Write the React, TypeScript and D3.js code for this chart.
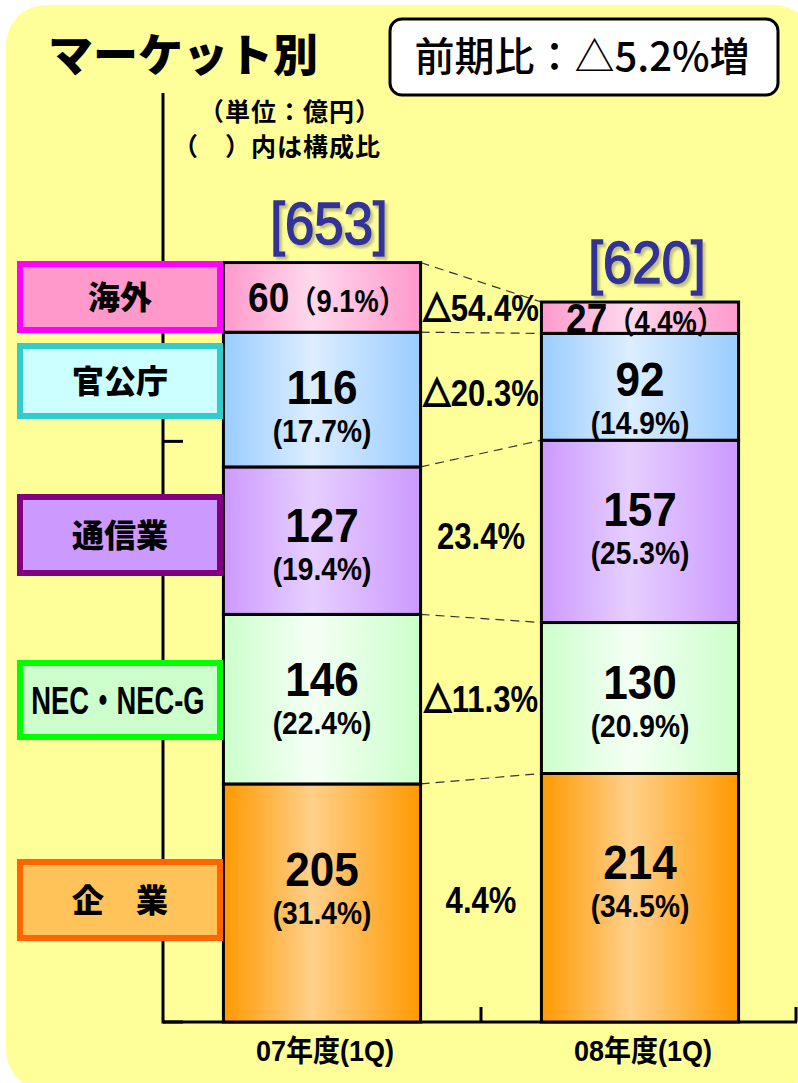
import React from "react";
import * as d3 from "d3";

// ---------- data ----------
const categories = ["07年度(1Q)", "08年度(1Q)"];
const segmentNames = ["企　業", "NEC・NEC-G", "通信業", "官公庁", "海外"];
const values07 = [205, 146, 127, 116, 60];
const values08 = [214, 130, 157, 92, 27];
const shares07 = [31.4, 22.4, 19.4, 17.7, 9.1];
const shares08 = [34.5, 20.9, 25.3, 14.9, 4.4];
const changeLabels = ["4.4%", "△11.3%", "23.4%", "△20.3%", "△54.4%"];
const totals = [653, 620];
const yTicks = [0, 500];
const yMax = 800;

const title = "マーケット別";
const headline = "前期比：△5.2%増";
const unitNote = "（単位：億円）";
const shareNote = "（　）内は構成比";

// ---------- styles / layout ----------
const edgeColors = ["#FF9900", "#CCFFCC", "#CC99FF", "#99CCFF", "#FF99CC"];
const centerColors = ["#FFD08A", "#F5FFF5", "#E6CFFF", "#DDEEFF", "#FFD9EC"];
const legendStroke = ["#FF6600", "#00FF00", "#800080", "#33CCCC", "#FF00FF"];
const legendFill = ["#FFC35A", "#CCFFCC", "#CC99FF", "#CCFFFF", "#FF99CC"];
const legendCY = [900, 700, 535, 381, 297];
const legendH = [76, 74, 76, 70, 66];

const W = 798;
const H = 1083;
const NUM_FONT = "'Liberation Sans', Arial, 'Noto Sans CJK JP', sans-serif";
const JP_FONT = "'Noto Sans CJK JP', 'Noto Sans', sans-serif";

const x = d3.scaleBand<string>().domain(categories).range([163, 799]).paddingInner(0).paddingOuter(0);
const y = d3.scaleLinear().domain([0, yMax]).range([1022, 93]);
const barW = x.bandwidth() * 0.62;

const valuesByCat = [values07, values08];
const sharesByCat = [shares07, shares08];
const rows = categories.map((c, i) => {
  const r: any = { cat: c };
  segmentNames.forEach((s, j) => (r[s] = valuesByCat[i][j]));
  return r;
});
const stacked = d3.stack<any>().keys(segmentNames)(rows);

function SText(props: any) {
  const { x, y, sx = 1, size, weight = "bold", fill = "#000", family = NUM_FONT, anchor = "middle", children, filter, stroke, strokeWidth, letterSpacing } = props;
  return (
    <text
      transform={`translate(${x},${y}) scale(${sx},1)`}
      fontSize={size}
      fontWeight={weight}
      fill={fill}
      fontFamily={family}
      textAnchor={anchor}
      filter={filter}
      stroke={stroke}
      strokeWidth={strokeWidth}
      letterSpacing={letterSpacing}
    >
      {children}
    </text>
  );
}

function withTriangle(label: string) {
  if (!label.startsWith("△")) return label;
  return [
    <tspan key="t" fontFamily={JP_FONT} fontWeight="900" fontSize={33} stroke="#000" strokeWidth={2.2}>
      △
    </tspan>,
    <tspan key="r">{label.slice(1)}</tspan>,
  ];
}

export default function App() {
  const barLeft = (ci: number) => (x(categories[ci]) as number) + (x.bandwidth() - barW) / 2;
  const barCenter = (ci: number) => (x(categories[ci]) as number) + x.bandwidth() / 2;

  return (
    <svg width={W} height={H} style={{ position: "absolute", left: 0, top: 0, display: "block" }}>
      <defs>
        {segmentNames.map((s, j) => (
          <linearGradient key={j} id={`g${j}`} x1="0" y1="0" x2="1" y2="0">
            <stop offset="0" stopColor={edgeColors[j]} />
            <stop offset="0.45" stopColor={centerColors[j]} />
            <stop offset="1" stopColor={edgeColors[j]} />
          </linearGradient>
        ))}
        <filter id="shadow" x="-10%" y="-10%" width="130%" height="140%">
          <feDropShadow dx={3} dy={3} stdDeviation={1.2} floodColor="#8C8C70" floodOpacity={0.55} />
        </filter>
      </defs>
      <rect x={0} y={0} width={W} height={H} fill="#FFFFFF" />
      <rect x={6} y={5} width={W + 10} height={H + 2} rx={40} ry={40} fill="#FFFF99" />

      {/* axes */}
      <line x1={163} x2={163} y1={y(yMax)} y2={y(0) + 1.5} stroke="#000" strokeWidth={3} />
      {yTicks.map((t) => (
        <line key={t} x1={163} x2={183} y1={y(t)} y2={y(t)} stroke="#000" strokeWidth={3} />
      ))}
      <line x1={163} x2={797} y1={y(0)} y2={y(0)} stroke="#000" strokeWidth={3} />
      {[x(categories[1]) as number, 796].map((tx, i) => (
        <line key={i} x1={tx} x2={tx} y1={y(0)} y2={y(0) - 15} stroke="#000" strokeWidth={3} />
      ))}

      {/* dashed connectors */}
      {stacked.map((layer, j) => (
        <line
          key={`d${j}`}
          x1={barLeft(0) + barW}
          y1={y(layer[0][1])}
          x2={barLeft(1)}
          y2={y(layer[1][1])}
          stroke="#333"
          strokeWidth={1.2}
          strokeDasharray="9,6"
        />
      ))}

      {/* bars */}
      {stacked.map((layer, j) =>
        layer.map((d, ci) => (
          <rect
            key={`b${j}-${ci}`}
            x={barLeft(ci)}
            y={y(d[1])}
            width={barW}
            height={y(d[0]) - y(d[1])}
            fill={`url(#g${j})`}
            stroke="#000"
            strokeWidth={3}
          />
        ))
      )}

      {/* segment labels */}
      {stacked.map((layer, j) =>
        layer.map((d, ci) => {
          const top = y(d[1]);
          const bot = y(d[0]);
          const h = bot - top;
          const c = (top + bot) / 2;
          const v = valuesByCat[ci][j];
          const s = sharesByCat[ci][j];
          const cx = barCenter(ci);
          if (h < 80) {
            return (
              <SText key={`l${j}-${ci}`} x={cx + 5} y={c + 15} sx={0.88} size={42} weight="bold">
                <tspan>{v}</tspan>
                <tspan fontSize={31}>{`（${s.toFixed(1)}%）`}</tspan>
              </SText>
            );
          }
          const nb = c + 4 - (h - 140) * 0.2;
          return (
            <g key={`l${j}-${ci}`}>
              <SText x={cx} y={nb - 1} sx={0.92} size={48}>
                {String(v)}
              </SText>
              <SText x={cx} y={nb + 37} sx={0.88} size={32}>
                {`(${s.toFixed(1)}%)`}
              </SText>
            </g>
          );
        })
      )}

      {/* change labels */}
      {stacked.map((layer, j) => {
        const c0 = (y(layer[0][0]) + y(layer[0][1])) / 2;
        const c1 = (y(layer[1][0]) + y(layer[1][1])) / 2;
        return (
          <SText key={`c${j}`} x={481} y={(c0 + c1) / 2 + 13} sx={0.84} size={37}>
            {withTriangle(changeLabels[j])}
          </SText>
        );
      })}

      {/* totals */}
      {totals.map((t, ci) => {
        const top = y(d3.sum(valuesByCat[ci]));
        return (
          <SText
            key={`t${ci}`}
            x={barCenter(ci) + 7}
            y={top - 19}
            sx={0.88}
            size={60}
            weight="normal"
            fill="#333399"
            stroke="#333399"
            strokeWidth={1.6}
            filter="url(#shadow)"
          >
            {`[${t}]`}
          </SText>
        );
      })}

      {/* category labels */}
      {categories.map((c, ci) => (
        <SText key={`x${ci}`} x={barCenter(ci) + 3} y={1061} sx={0.9} size={30}>
          {c}
        </SText>
      ))}

      {/* legend boxes */}
      {segmentNames.map((s, j) => (
        <g key={`lg${j}`}>
          <rect
            x={20}
            y={legendCY[j] - legendH[j] / 2}
            width={200}
            height={legendH[j]}
            fill={legendFill[j]}
            stroke={legendStroke[j]}
            strokeWidth={6}
          />
          {s.startsWith("NEC") ? (
            <SText x={118} y={legendCY[j] + 14} sx={0.72} size={38} family={NUM_FONT}>
              {s}
            </SText>
          ) : (
            <SText x={120} y={legendCY[j] + 12} size={32} family={JP_FONT} weight="900">
              {s}
            </SText>
          )}
        </g>
      ))}

      {/* title */}
      <SText x={48} y={72} size={45} anchor="start" family={JP_FONT} weight="900">
        {title}
      </SText>
      <rect x={390} y={19} width={388} height={76} rx={12} ry={12} fill="#FFFFFF" stroke="#000" strokeWidth={3} />
      <SText x={582} y={71} size={40} weight="500" family={JP_FONT}>
        {headline}
      </SText>
      <SText x={381} y={121} size={25} anchor="end" family={JP_FONT} letterSpacing={1}>
        {unitNote}
      </SText>
      <SText x={381} y={156} size={25} anchor="end" family={JP_FONT} letterSpacing={1}>
        {shareNote}
      </SText>
    </svg>
  );
}
